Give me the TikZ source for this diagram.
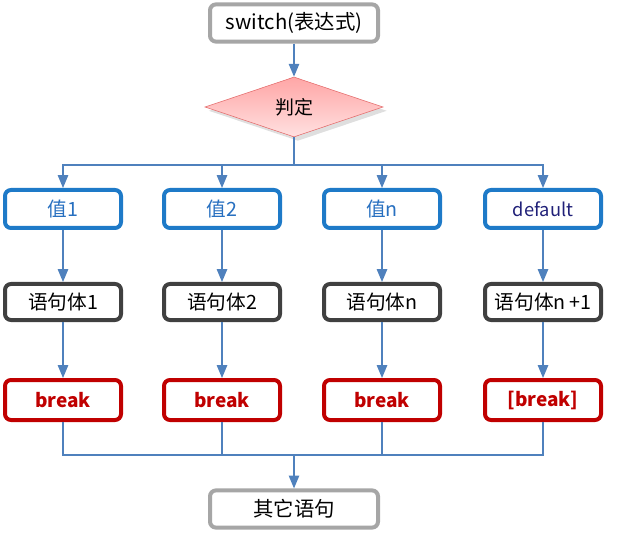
\documentclass[tikz,border=0pt]{standalone}
\usepackage{fontspec}
\setmainfont{Noto Sans CJK SC}
\usetikzlibrary{shapes.geometric,arrows.meta,shadows}
\definecolor{linkblue}{RGB}{79,129,189}
\definecolor{valblue}{RGB}{30,122,200}
\definecolor{valtext}{RGB}{40,112,192}
\definecolor{deftext}{RGB}{32,32,120}
\definecolor{stmgray}{RGB}{64,64,64}
\definecolor{brkred}{RGB}{192,0,0}
\definecolor{endgray}{RGB}{166,166,166}
\definecolor{judgeedge}{RGB}{228,108,108}
\begin{document}
\begin{tikzpicture}[auto,
    endbox/.style ={draw=endgray, line width=1mm, rounded corners=1.5mm, fill=white, minimum width=4.2cm, minimum height=0.93cm, font=\fontsize{14.5}{16}\selectfont},
    valbox/.style ={draw=valblue, line width=1mm, rounded corners=1.5mm, minimum width=2.9cm, minimum height=0.95cm, text=valtext, font=\fontsize{14}{16}\selectfont},
    stmbox/.style ={draw=stmgray, line width=1mm, rounded corners=1.5mm, minimum width=2.9cm, minimum height=0.9cm, font=\fontsize{14}{16}\selectfont},
    brkbox/.style ={draw=brkred, line width=1mm, rounded corners=1.5mm, minimum width=2.9cm, minimum height=1.0cm, text=brkred, font=\fontsize{13.5}{16}\selectfont\bfseries},
    judge/.style ={diamond, draw=judgeedge, thin, top color=red!35!white, bottom color=red!12!white, aspect=3, inner sep=0pt, minimum width=4.45cm, minimum height=1.5cm, drop shadow={opacity=0.25}, font=\fontsize{13.5}{16}\selectfont},
    link/.style ={draw=linkblue, line width=0.9pt},
    flow/.style ={link, -{Triangle[length=3.2mm, width=2.6mm]}}]
   \useasboundingbox (0,0) rectangle (15.45,-13.375);
   \node[endbox] (S) at (7.35,-0.575) {switch(表达式)};
   \node[judge] (J) at (7.35,-2.675) {判定};
   \coordinate (T) at (7.35,-4.125);

   \node[valbox] (V1) at (1.575,-5.225) {值1};
   \node[valbox] (V2) at (5.55,-5.225)  {值2};
   \node[valbox] (V3) at (9.55,-5.225)  {值n};
   \node[valbox, text=deftext, font=\fontsize{13}{15}\selectfont] (V4) at (13.575,-5.225) {default};

   \node[stmbox] (B1) at (1.575,-7.55) {语句体1};
   \node[stmbox] (B2) at (5.55,-7.55)  {语句体2};
   \node[stmbox] (B3) at (9.55,-7.55)  {语句体n};
   \node[stmbox] (B4) at (13.575,-7.55) {语句体n\,+1};

   \node[brkbox] (K1) at (1.575,-10.0) {break};
   \node[brkbox] (K2) at (5.55,-10.0)  {break};
   \node[brkbox] (K3) at (9.55,-10.0)  {break};
   \node[brkbox] (K4) at (13.575,-10.0) {[break]};

   \coordinate (M) at (7.35,-11.375);
   \node[endbox] (E) at (7.35,-12.725) {其它语句};

   \draw[flow] (S) to (J);
   \draw[link] (J.south) to (T);
   \draw[flow] (T) -| (V1.north);
   \draw[flow] (T) -| (V2.north);
   \draw[flow] (T) -| (V3.north);
   \draw[flow] (T) -| (V4.north);
   \draw[flow] (V1) to (B1);
   \draw[flow] (V2) to (B2);
   \draw[flow] (V3) to (B3);
   \draw[flow] (V4) to (B4);
   \draw[flow] (B1) to (K1);
   \draw[flow] (B2) to (K2);
   \draw[flow] (B3) to (K3);
   \draw[flow] (B4) to (K4);
   \draw[link] (K1.south) |- (M);
   \draw[link] (K2.south) |- (M);
   \draw[link] (K3.south) |- (M);
   \draw[link] (K4.south) |- (M);
   \draw[flow] (M) to (E);
 \end{tikzpicture}
\end{document}
